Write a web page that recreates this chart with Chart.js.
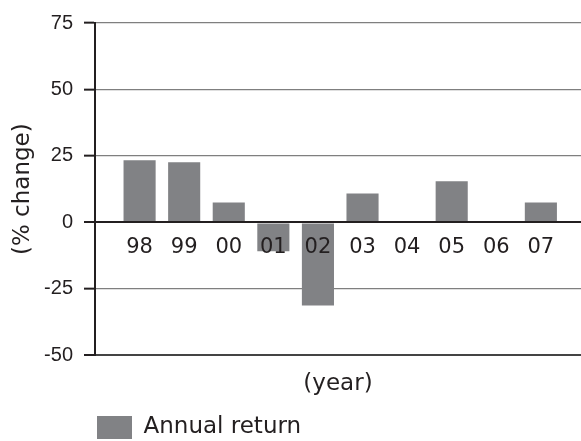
<!DOCTYPE html>
<html>
<head>
<meta charset="utf-8">
<script src="https://cdn.jsdelivr.net/npm/chart.js@4"></script>
<style>
  html, body { margin: 0; padding: 0; background: #fff; }
  canvas { display: block; }
</style>
</head>
<body>
<canvas id="c" width="581" height="441"></canvas>
<script>
// Year labels (two-digit) and the annual return for each year, in percent
const years = ['98', '99', '00', '01', '02', '03', '04', '05', '06', '07'];
const annualReturn = [23.4, 22.6, 7.5, -10.8, -31.2, 10.9, 0, 15.5, 0.3, 7.5];
const yTicks = [-50, -25, 0, 25, 50, 75];

const INK = '#231f20';
const BAR = '#818285';
const gothic = 'DejaVu Sans';

function gridColor(ctx) {
  const v = ctx.tick ? ctx.tick.value : null;
  if (v === 0) return INK;
  if (v === yTicks[0]) return '#444444';
  return '#7f7f7f';
}
function gridWidth(ctx) {
  const v = ctx.tick ? ctx.tick.value : null;
  if (v === 0 || v === yTicks[0]) return 2;
  return 1.3;
}

new Chart(document.getElementById('c'), {
  type: 'bar',
  data: {
    datasets: [{
      label: 'Annual return',
      data: annualReturn.map((v, i) => ({ x: i, y: v })),
      backgroundColor: BAR,
      borderWidth: 0,
      barPercentage: 0.72,
      categoryPercentage: 1
    }]
  },
  options: {
    responsive: false,
    animation: false,
    layout: { padding: { top: 12, right: 0, bottom: -8, left: 0 } },
    plugins: {
      tooltip: { enabled: false },
      legend: {
        position: 'bottom',
        align: 'start',
        fullSize: false,
        labels: {
          boxWidth: 35,
          boxHeight: 23,
          padding: 2,
          color: INK,
          font: { family: gothic, size: 23 }
        }
      }
    },
    scales: {
      x: {
        type: 'linear',
        position: { y: 0 },
        offset: false,
        min: -1,
        max: 9.9,
        afterBuildTicks: (s) => { s.ticks = years.map((_, i) => ({ value: i })); },
        ticks: {
          z: 1,
          autoSkip: false,
          maxRotation: 0,
          padding: 13,
          color: INK,
          font: { family: gothic, size: 21 },
          callback: (v) => years[v]
        },
        grid: { display: false, drawTicks: false, offset: false },
        border: { display: true, color: INK, width: 2, z: 1 }
      },
      x2: {
        type: 'linear',
        position: 'bottom',
        display: true,
        offset: false,
        grid: { display: false, drawTicks: false },
        ticks: { display: false },
        border: { display: false },
        title: {
          display: true,
          text: '(year)',
          color: INK,
          font: { family: gothic, size: 23 },
          padding: { top: 15, bottom: 16 }
        }
      },
      y: {
        position: 'left',
        min: yTicks[0],
        max: yTicks[yTicks.length - 1],
        afterFit: (s) => { s.width = 95; },
        afterBuildTicks: (s) => { s.ticks = yTicks.map((v) => ({ value: v })); },
        ticks: {
          padding: 11,
          color: INK,
          font: { family: 'Liberation Sans', size: 20 }
        },
        grid: {
          color: gridColor,
          lineWidth: gridWidth,
          tickLength: 11,
          tickColor: INK,
          tickWidth: 2
        },
        border: { color: INK, width: 2 },
        title: {
          display: true,
          text: '(% change)',
          color: INK,
          font: { family: gothic, size: 23 },
          padding: { top: 9, bottom: 0 }
        }
      }
    }
  }
});
</script>
</body>
</html>
